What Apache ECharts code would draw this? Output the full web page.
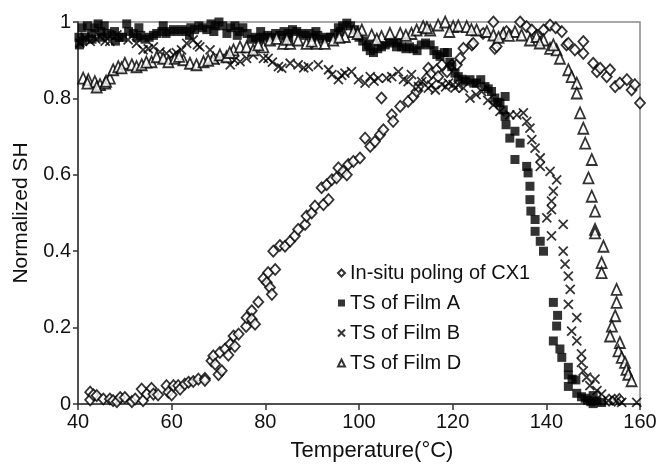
<!DOCTYPE html>
<html>
<head>
<meta charset="utf-8">
<script src="https://cdn.jsdelivr.net/npm/echarts@6/dist/echarts.min.js"></script>
<style>html,body{margin:0;padding:0;background:#fff}#c{width:660px;height:467px}</style>
</head>
<body>
<div id="c"></div>
<script>
// ---- Data ----
var seriesNames = ["In-situ poling of CX1", "TS of Film A", "TS of Film B", "TS of Film D"];
var xTicks = [40, 60, 80, 100, 120, 140, 160];
var yTicks = [0, 0.2, 0.4, 0.6, 0.8, 1];

// In-situ poling of CX1 (hollow diamonds)
var cx1X = [42.6,42.6,43.3,44.0,45.4,46.8,47.5,48.3,49.0,50.0,51.5,52.2,53.6,53.9,54.7,55.7,56.1,57.1,58.9,59.3,60.0,60.4,61.4,61.8,62.8,63.6,64.6,65.7,67.1,67.1,68.5,68.9,69.3,70.0,70.7,70.3,71.4,72.1,72.5,73.2,73.5,74.3,75.9,76.0,77.1,77.1,77.8,78.5,79.6,80.3,80.6,81.0,81.4,81.7,82.1,83.1,84.2,85.3,86.3,87.0,88.5,88.8,89.9,90.6,92.4,93.5,92.0,93.1,94.2,95.2,95.6,96.6,97.4,97.7,98.8,100.2,101.3,102.4,103.4,104.5,105.2,104.8,107.0,107.3,108.8,110.5,111.6,112.3,112.7,114.5,114.8,115.5,116.6,116.9,117.7,119.8,120.9,122.3,124.1,124.4,128.7,129.0,129.4,134.4,135.8,136.9,139.4,140.8,143.3,144.3,144.7,146.1,147.9,147.9,150.0,150.8,151.5,152.9,153.6,154.7,155.7,157.2,158.2,158.9,160.0,153.4,154.6,155.6,126.5,131.5,138.0,142.0,118.8,121.6];
var cx1Y = [0.031,0.011,0.024,0.022,0.013,0.013,0.009,0.006,0.017,0.017,0.006,0.013,0.039,0.009,0.026,0.041,0.026,0.024,0.048,0.031,0.024,0.048,0.048,0.039,0.052,0.057,0.059,0.065,0.067,0.062,0.113,0.126,0.104,0.077,0.087,0.135,0.144,0.128,0.157,0.178,0.151,0.183,0.203,0.226,0.244,0.222,0.209,0.267,0.328,0.318,0.344,0.305,0.287,0.400,0.352,0.415,0.413,0.426,0.440,0.457,0.470,0.492,0.500,0.518,0.522,0.535,0.566,0.574,0.587,0.592,0.618,0.609,0.600,0.627,0.635,0.644,0.696,0.674,0.687,0.705,0.718,0.801,0.757,0.740,0.779,0.792,0.805,0.818,0.831,0.853,0.879,0.866,0.875,0.857,0.888,0.888,0.888,0.931,0.940,0.944,1.0,0.931,0.936,1.0,0.988,0.979,0.979,0.992,0.975,0.940,0.944,0.927,0.949,0.918,0.892,0.870,0.879,0.857,0.875,0.831,0.840,0.849,0.822,0.836,0.788,0.010,0.010,0.012,0.970,0.975,0.965,0.985,0.870,0.905];

// TS of Film A (filled squares)
var filmAX = [40.2,40.3,40.9,41.5,42.0,42.9,43.6,44.3,44.9,45.6,46.2,47.2,48.0,48.8,49.5,50.4,50.8,51.8,52.6,53.4,54.3,55.2,56.1,56.8,57.9,58.8,59.6,60.4,61.4,62.3,63.2,64.1,64.9,65.8,66.6,67.5,68.4,69.3,70.1,70.9,71.8,72.6,73.5,74.4,75.2,76.1,77.0,77.9,78.7,79.6,80.5,81.3,82.2,83.1,84.0,84.9,85.8,86.7,87.6,88.5,89.4,90.3,91.2,92.1,93.0,93.9,94.8,95.6,96.5,97.4,98.2,99.1,100.0,100.8,101.6,102.4,103.1,104.0,104.8,105.6,106.5,107.4,108.3,109.1,110.0,110.8,111.6,112.4,113.3,114.2,115.2,116.0,116.6,117.3,118.2,118.9,119.4,119.8,120.5,121.2,122.0,122.7,123.7,124.5,125.1,126.0,126.9,127.6,128.3,129.0,129.6,130.1,130.8,131.2,131.2,131.4,132.2,133.3,134.4,133.3,135.8,136.1,136.5,136.5,136.7,137.6,137.6,138.7,139.4,141.5,142.4,142.2,141.5,142.9,143.3,144.7,144.7,145.5,146.3,144.7,146.5,147.5,148.3,148.8,149.5,150.0,150.8,151.8,150.0,41.0,43.0,45.2,47.8,53.0,58.2,63.8,69.0,74.0,79.0,85.0,90.8,96.0,102.0,108.0];
var filmAY = [0.96,0.94,0.985,0.96,0.99,0.97,0.985,0.995,0.975,0.99,0.97,0.965,0.95,0.96,0.96,0.995,0.975,0.97,0.96,0.965,0.955,0.96,0.965,0.97,0.975,0.97,0.975,0.98,0.975,0.98,0.975,0.985,0.98,0.99,0.985,0.98,0.995,0.99,1.0,0.99,0.97,0.985,0.99,0.975,0.985,0.97,0.955,0.96,0.955,0.96,0.965,0.96,0.97,0.965,0.975,0.97,0.98,0.975,0.97,0.965,0.97,0.96,0.965,0.955,0.96,0.96,0.97,0.985,0.99,0.997,0.99,0.98,0.96,0.95,0.935,0.925,0.92,0.93,0.935,0.94,0.945,0.95,0.945,0.935,0.93,0.935,0.93,0.925,0.94,0.945,0.94,0.925,0.915,0.91,0.92,0.92,0.895,0.883,0.866,0.857,0.85,0.845,0.849,0.84,0.84,0.849,0.831,0.825,0.818,0.801,0.79,0.788,0.77,0.805,0.753,0.731,0.696,0.714,0.683,0.640,0.622,0.605,0.570,0.535,0.505,0.483,0.452,0.426,0.400,0.266,0.232,0.204,0.165,0.144,0.122,0.096,0.076,0.065,0.063,0.046,0.028,0.019,0.015,0.010,0.006,0.001,0.008,0.004,0.022,0.95,0.955,0.96,0.975,0.985,0.99,0.965,0.975,0.965,0.975,0.96,0.975,0.975,0.94,0.935];

// TS of Film B (crosses)
var filmBX = [40.4,42.6,44.7,46.8,48.3,50.7,52.5,53.9,56.1,57.5,58.9,60.4,62.1,63.2,64.6,66.0,68.2,70.3,72.5,73.4,74.6,77.4,79.6,80.6,82.8,83.5,85.3,87.0,89.2,91.3,93.5,94.2,95.6,97.0,98.4,99.9,101.3,102.4,104.1,105.9,107.0,108.4,110.5,111.2,112.7,113.4,114.8,116.3,117.7,119.1,120.1,120.5,122.3,123.7,126.2,128.7,130.1,132.2,133.7,135.1,135.8,136.5,136.9,137.6,138.7,138.7,140.8,142.2,141.5,141.1,141.1,140.1,143.6,141.1,143.6,144.0,144.7,145.1,144.7,146.5,145.4,146.5,147.5,147.5,147.9,148.6,150.4,149.3,150.8,151.8,153.2,155.0,156.1,159.3,41.5,43.8,45.8,55.0,61.0,65.5,69.3,76.0,81.5,88.2,96.3,103.2,109.5,115.5,118.5,121.2,125.0,127.5];
var filmBY = [0.945,0.949,0.962,0.949,0.966,0.953,0.944,0.927,0.935,0.922,0.918,0.914,0.927,0.944,0.953,0.935,0.927,0.905,0.888,0.900,0.896,0.914,0.905,0.905,0.883,0.879,0.892,0.888,0.883,0.888,0.875,0.862,0.849,0.866,0.870,0.849,0.840,0.857,0.853,0.853,0.857,0.870,0.844,0.862,0.831,0.844,0.827,0.822,0.836,0.840,0.836,0.827,0.827,0.801,0.818,0.783,0.766,0.757,0.757,0.762,0.740,0.722,0.692,0.670,0.644,0.622,0.609,0.587,0.557,0.531,0.509,0.487,0.470,0.440,0.400,0.366,0.335,0.300,0.261,0.226,0.191,0.165,0.131,0.109,0.087,0.070,0.065,0.048,0.035,0.026,0.009,0.009,0.004,0.004,0.960,0.955,0.950,0.930,0.920,0.940,0.900,0.905,0.895,0.880,0.860,0.845,0.850,0.835,0.830,0.835,0.810,0.795];

// TS of Film D (hollow triangles)
var filmDX = [41.1,42.2,43.6,44.7,45.8,46.8,47.5,48.6,50.0,51.5,52.5,53.6,55.7,56.8,58.2,59.3,60.7,62.5,63.9,65.3,66.8,68.9,70.3,71.7,73.2,74.6,76.0,77.4,79.6,81.0,82.4,83.8,85.3,87.0,88.8,91.0,92.7,94.5,97.0,98.8,100.6,102.7,104.8,106.6,108.8,111.2,112.3,113.7,115.2,116.9,118.4,120.1,121.2,123.0,125.1,127.3,128.7,130.8,133.3,134.7,136.5,137.9,139.4,140.8,142.2,142.9,144.7,145.4,146.5,146.5,147.2,147.9,148.3,149.7,149.0,149.7,150.4,150.4,150.4,152.2,151.8,151.8,155.0,155.0,154.7,154.0,153.6,155.7,155.4,156.1,156.8,157.1,157.5,158.2,42.0,44.0,46.0,49.3,54.6,61.6,67.8,72.4,78.5,84.6,89.9,95.8,99.7,103.8,110.0,114.5,119.3,124.0,129.8,132.0,138.6,141.5];
var filmDY = [0.853,0.849,0.844,0.836,0.840,0.853,0.875,0.883,0.892,0.888,0.883,0.888,0.896,0.909,0.905,0.896,0.905,0.901,0.892,0.888,0.896,0.905,0.914,0.909,0.927,0.935,0.935,0.927,0.935,0.953,0.957,0.944,0.944,0.953,0.944,0.944,0.944,0.953,0.962,0.975,0.979,0.966,0.962,0.970,0.970,0.970,0.979,0.988,0.979,0.992,1.0,0.988,0.990,0.988,0.979,0.975,0.966,0.970,0.975,0.966,0.953,0.962,0.953,0.931,0.927,0.905,0.875,0.857,0.840,0.814,0.762,0.722,0.683,0.640,0.592,0.544,0.505,0.457,0.448,0.413,0.370,0.344,0.300,0.266,0.231,0.204,0.178,0.161,0.139,0.122,0.109,0.091,0.078,0.061,0.840,0.830,0.845,0.880,0.895,0.910,0.900,0.920,0.940,0.955,0.950,0.960,0.970,0.955,0.965,0.985,0.975,0.980,0.960,0.965,0.945,0.940];

function zip(xs, ys) { return xs.map(function (x, i) { return [x, ys[i]]; }); }

var FONT = "'Liberation Sans', Arial, Helvetica, sans-serif";
var crossPath = 'path://M0,0L10,10M10,0L0,10';

var chart = echarts.init(document.getElementById('c'), null, { renderer: 'canvas' });
chart.setOption({
  animation: false,
  backgroundColor: '#ffffff',
  grid: { left: 78, right: 20, top: 22, bottom: 62, show: true, borderColor: '#8a8a8a', borderWidth: 1.5, backgroundColor: 'transparent' },
  xAxis: {
    type: 'value', min: xTicks[0], max: xTicks[xTicks.length - 1], interval: 20,
    name: 'Temperature(°C)', nameLocation: 'middle', nameGap: 36,
    nameTextStyle: { fontFamily: FONT, fontSize: 22, color: '#111', padding: [0, 0, 0, 26] },
    axisLine: { show: true, lineStyle: { color: '#333', width: 1.5 } },
    axisTick: { show: true, inside: false, length: 6, lineStyle: { color: '#333', width: 1.5 } },
    axisLabel: { fontFamily: FONT, fontSize: 20, color: '#111', margin: 8 },
    splitLine: { show: false }
  },
  yAxis: {
    type: 'value', min: yTicks[0], max: yTicks[yTicks.length - 1], interval: 0.2,
    name: 'Normalized SH', nameLocation: 'middle', nameGap: 46,
    nameTextStyle: { fontFamily: FONT, fontSize: 21, color: '#111' },
    axisLine: { show: true, lineStyle: { color: '#333', width: 1.5 } },
    axisTick: { show: true, inside: false, length: 5, lineStyle: { color: '#333', width: 1.5 } },
    axisLabel: { fontFamily: FONT, fontSize: 20, color: '#111', margin: 7 },
    splitLine: { show: false }
  },
  legend: {
    orient: 'vertical', left: 332, top: 258,
    itemWidth: 7, itemHeight: 7, itemGap: 10,
    textStyle: { fontFamily: FONT, fontSize: 20, color: '#111', lineHeight: 20 },
    data: seriesNames
  },
  series: [
    { name: seriesNames[0], type: 'scatter', symbol: 'diamond', symbolSize: [10, 11],
      itemStyle: { color: '#fff', borderColor: '#000', borderWidth: 1.8 },
      data: zip(cx1X, cx1Y) },
    { name: seriesNames[1], type: 'scatter', symbol: 'rect', symbolSize: 9,
      itemStyle: { color: '#000' },
      data: zip(filmAX, filmAY) },
    { name: seriesNames[2], type: 'scatter', symbol: crossPath, symbolSize: 9,
      itemStyle: { color: '#000', borderColor: '#000', borderWidth: 1.8 },
      data: zip(filmBX, filmBY) },
    { name: seriesNames[3], type: 'scatter', symbol: 'triangle', symbolSize: [10, 11],
      itemStyle: { color: '#fff', borderColor: '#000', borderWidth: 1.8 },
      data: zip(filmDX, filmDY) }
  ]
});
</script>
</body>
</html>
